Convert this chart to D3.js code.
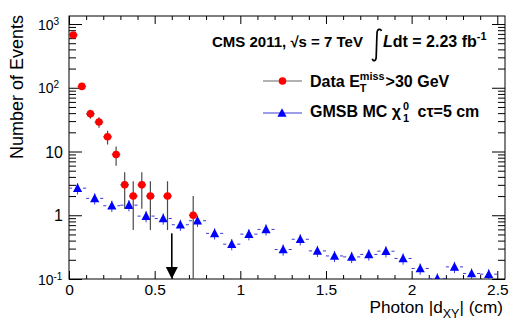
<!DOCTYPE html>
<html>
<head>
<meta charset="utf-8">
<title>Photon dXY distribution</title>
<script src="https://d3js.org/d3.v7.min.js"></script>
<style>
  body { margin: 0; background: #fff; }
  text { font-family: "Liberation Sans", Arial, Helvetica, sans-serif; white-space: pre; }
</style>
</head>
<body>

<div id="chart"></div>

<script>
// Data, ET miss > 30 GeV: bin centres (cm) and event counts
const dataX = [0.025, 0.075, 0.125, 0.175, 0.225, 0.275, 0.325, 0.375, 0.425, 0.475, 0.575, 0.725];
const dataN = [672, 105, 39, 29, 17, 9, 3, 2, 3, 2, 2, 1];
const dataHalfWidth = 0.025;

// GMSB MC, ctau = 5 cm
const mcX = [0.05, 0.15, 0.25, 0.35, 0.45, 0.55, 0.65, 0.75, 0.85, 0.95,
             1.05, 1.15, 1.25, 1.35, 1.45, 1.55, 1.65, 1.75, 1.85, 1.95,
             2.05, 2.15, 2.25, 2.35, 2.45];
const mcY = [2.66, 1.84, 1.41, 1.44, 0.97, 0.89, 0.71, 0.82, 0.52, 0.352,
             0.505, 0.60, 0.29, 0.42, 0.276, 0.23, 0.222, 0.243, 0.273, 0.21,
             0.146, 0.102, 0.155, 0.122, 0.119];
const mcHalfWidth = 0.05;
const mcRelErr = 0.2;

// cut arrow
const arrowX = 0.6;
const arrowTop = 0.52;

const xMajor = [0, 0.5, 1, 1.5, 2, 2.5];
const xLabels = ["0", "0.5", "1", "1.5", "2", "2.5"];
const yMajor = [0.1, 1, 10, 100, 1000];
const yLabels = [["10", "-1"], ["1", ""], ["10", ""], ["10", "2"], ["10", "3"]];

const margin = { top: 16, right: 27, bottom: 44, left: 69 };
const width = 532 - margin.left - margin.right;
const height = 323 - margin.top - margin.bottom;

const svg = d3.select("#chart")
  .append("svg")
  .attr("width", 532)
  .attr("height", 323);

svg.append("defs").append("clipPath").attr("id", "clip")
  .append("rect").attr("width", width).attr("height", height);

const g = svg.append("g")
  .attr("transform", `translate(${margin.left},${margin.top})`);

const x = d3.scaleLinear().domain([0, 2.545]).range([0, width]);
const y = d3.scaleLog().domain([0.1, 1336]).range([height, 0]);

// tick positions
const xMinor = d3.range(0, 2.55, 0.1).filter(v => !xMajor.some(m => Math.abs(m - v) < 1e-6));
const yMinor = [];
[-1, 0, 1, 2, 3].forEach(e => {
  for (let m = 2; m <= 9; m++) {
    const v = m * Math.pow(10, e);
    if (v <= 1336) yMinor.push(v);
  }
});

function noDomain(sel) { sel.select(".domain").remove(); }

// x axes (bottom with labels, top without)
g.append("g")
  .attr("transform", `translate(0,${height})`)
  .call(d3.axisBottom(x).tickValues(xMajor).tickSize(-8).tickPadding(5)
    .tickFormat((d, i) => xLabels[i]))
  .call(noDomain)
  .attr("font-size", 15.5);
g.append("g")
  .attr("transform", `translate(0,${height})`)
  .call(d3.axisBottom(x).tickValues(xMinor).tickSize(-4).tickFormat(""))
  .call(noDomain);
g.append("g")
  .call(d3.axisTop(x).tickValues(xMajor).tickSize(-8).tickFormat(""))
  .call(noDomain);
g.append("g")
  .call(d3.axisTop(x).tickValues(xMinor).tickSize(-4).tickFormat(""))
  .call(noDomain);

// y axes
g.append("g")
  .call(d3.axisLeft(y).tickValues(yMajor).tickSize(-13).tickFormat(""))
  .call(noDomain);
g.append("g")
  .call(d3.axisLeft(y).tickValues(yMinor).tickSize(-7).tickFormat(""))
  .call(noDomain);
g.append("g")
  .attr("transform", `translate(${width},0)`)
  .call(d3.axisRight(y).tickValues(yMajor).tickSize(-13).tickFormat(""))
  .call(noDomain);
g.append("g")
  .attr("transform", `translate(${width},0)`)
  .call(d3.axisRight(y).tickValues(yMinor).tickSize(-7).tickFormat(""))
  .call(noDomain);

// y tick labels: plain ones right aligned, powers of ten aligned on the "10"
const yLab = g.append("g");
yMajor.forEach((v, i) => {
  const [base, exp] = yLabels[i];
  if (!exp) {
    yLab.append("text")
      .attr("x", -6).attr("y", y(v) + 6)
      .attr("text-anchor", "end").attr("font-size", 16)
      .text(base);
  } else {
    yLab.append("text")
      .attr("x", -15.5).attr("y", y(v) + 5.5)
      .attr("text-anchor", "end").attr("font-size", 14)
      .text(base);
    yLab.append("text")
      .attr("x", -15.5).attr("y", y(v) + 0.5)
      .attr("font-size", 10)
      .text(exp);
  }
});

// frame
g.append("rect")
  .attr("width", width).attr("height", height)
  .attr("fill", "none").attr("stroke", "#000").attr("stroke-width", 1);

const plot = g.append("g").attr("clip-path", "url(#clip)");

// MC histogram
const mc = mcX.map((c, i) => ({ c: c, v: mcY[i] }));
const mcColor = "#3a3ad6";
plot.selectAll(".mc-left").data(mc).enter().append("line")
  .attr("x1", d => x(d.c - mcHalfWidth)).attr("x2", d => x(d.c) - 5.5)
  .attr("y1", d => y(d.v)).attr("y2", d => y(d.v))
  .attr("stroke", mcColor).attr("stroke-width", 1);
plot.selectAll(".mc-right").data(mc).enter().append("line")
  .attr("x1", d => x(d.c) + 5.5).attr("x2", d => x(d.c + mcHalfWidth))
  .attr("y1", d => y(d.v)).attr("y2", d => y(d.v))
  .attr("stroke", mcColor).attr("stroke-width", 1);
plot.selectAll(".mc-err").data(mc).enter().append("line")
  .attr("x1", d => x(d.c)).attr("x2", d => x(d.c))
  .attr("y1", d => y(d.v * (1 + mcRelErr))).attr("y2", d => y(d.v * (1 - mcRelErr)))
  .attr("stroke", mcColor).attr("stroke-width", 1);
const triPath = "M-4.6,3.8L4.6,3.8L0,-4.8Z";
plot.selectAll(".mc-pt").data(mc).enter().append("path")
  .attr("d", triPath)
  .attr("transform", d => `translate(${x(d.c)},${y(d.v)})`)
  .attr("fill", "#0000ff");

// data points
const pts = dataX.map((c, i) => ({ c: c, n: dataN[i] }));
const errColor = "#4a4a4a";
plot.selectAll(".d-v").data(pts).enter().append("line")
  .attr("x1", d => x(d.c)).attr("x2", d => x(d.c))
  .attr("y1", d => y(d.n + Math.sqrt(d.n)))
  .attr("y2", d => d.n - Math.sqrt(d.n) > 0.1 ? y(d.n - Math.sqrt(d.n)) : height)
  .attr("stroke", errColor).attr("stroke-width", 1.2);
plot.selectAll(".d-h").data(pts).enter().append("line")
  .attr("x1", d => x(d.c - dataHalfWidth)).attr("x2", d => x(d.c + dataHalfWidth))
  .attr("y1", d => y(d.n)).attr("y2", d => y(d.n))
  .attr("stroke", errColor).attr("stroke-width", 1.2);
plot.selectAll(".d-pt").data(pts).enter().append("circle")
  .attr("cx", d => x(d.c)).attr("cy", d => y(d.n))
  .attr("r", 3.8).attr("fill", "#ff0000");

// arrow
g.append("line")
  .attr("x1", x(arrowX)).attr("x2", x(arrowX))
  .attr("y1", y(arrowTop)).attr("y2", height - 11)
  .attr("stroke", "#000").attr("stroke-width", 1.6);
g.append("path")
  .attr("d", `M${x(arrowX) - 6},${height - 12}L${x(arrowX) + 6},${height - 12}L${x(arrowX)},${height}Z`)
  .attr("fill", "#000");

// axis titles
svg.append("text")
  .attr("transform", "translate(23,15) rotate(-90)")
  .attr("text-anchor", "end").attr("font-size", 18)
  .text("Number of Events");

const xt = svg.append("text")
  .attr("x", 503).attr("y", 313)
  .attr("text-anchor", "end").attr("font-size", 17.2);
xt.append("tspan").text("Photon |d");
xt.append("tspan").attr("dy", 4.5).attr("font-size", 12.5).text("XY");
xt.append("tspan").attr("dy", -4.5).text("| (cm)");

// text built piece by piece, with stacked super/subscripts
function rich(parent, x0, y0, parts, size) {
  let cx = x0;
  parts.forEach(p => {
    if (p.t !== undefined) {
      const t = parent.append("text")
        .attr("x", cx).attr("y", y0)
        .attr("font-size", size).attr("font-weight", "bold")
        .text(p.t);
      if (p.italic) t.attr("font-style", "italic");
      cx += t.node().getComputedTextLength() + (p.gap || 0);
    } else {
      let w = 0;
      if (p.sup) {
        const s = parent.append("text")
          .attr("x", cx).attr("y", y0 - 7)
          .attr("font-size", size * 0.68).attr("font-weight", "bold")
          .text(p.sup);
        w = Math.max(w, s.node().getComputedTextLength());
      }
      if (p.sub) {
        const s = parent.append("text")
          .attr("x", cx).attr("y", y0 + 5)
          .attr("font-size", size * 0.68).attr("font-weight", "bold")
          .text(p.sub);
        w = Math.max(w, s.node().getComputedTextLength());
      }
      cx += w + 1 + (p.gap || 0);
    }
  });
}

const ann = svg.append("g");
rich(ann, 212, 47, [{ t: "CMS 2011, √s = 7 TeV" }], 15);
ann.append("path")
  .attr("d", "M381.5,31 C380.5,28.5 377.3,28.5 377,33 L376.2,57 C376,61.5 373,61.5 372.3,58.8")
  .attr("fill", "none").attr("stroke", "#000").attr("stroke-width", 1.7);
rich(ann, 383, 47, [{ t: "L", italic: true }, { t: "dt = 2.23 fb" }, { sup: "-1" }], 16);

// legend
const leg = svg.append("g");
leg.append("line").attr("x1", 263).attr("x2", 302).attr("y1", 81).attr("y2", 81)
  .attr("stroke", "#666").attr("stroke-width", 1.2);
leg.append("circle").attr("cx", 282.5).attr("cy", 81).attr("r", 3.8).attr("fill", "#ff0000");
rich(leg, 310, 86.5, [{ t: "Data E" }, { sup: "miss", sub: "T" }, { t: ">30 GeV" }], 16);

leg.append("line").attr("x1", 263).attr("x2", 302).attr("y1", 113).attr("y2", 113)
  .attr("stroke", mcColor).attr("stroke-width", 1);
leg.append("path").attr("d", triPath).attr("transform", "translate(282,113)").attr("fill", "#0000ff");
rich(leg, 310, 117, [{ t: "GMSB MC χ", gap: 2 }, { sup: "0", sub: "1", gap: 3 }, { t: " cτ=5 cm" }], 16);
</script>

</body>
</html>
